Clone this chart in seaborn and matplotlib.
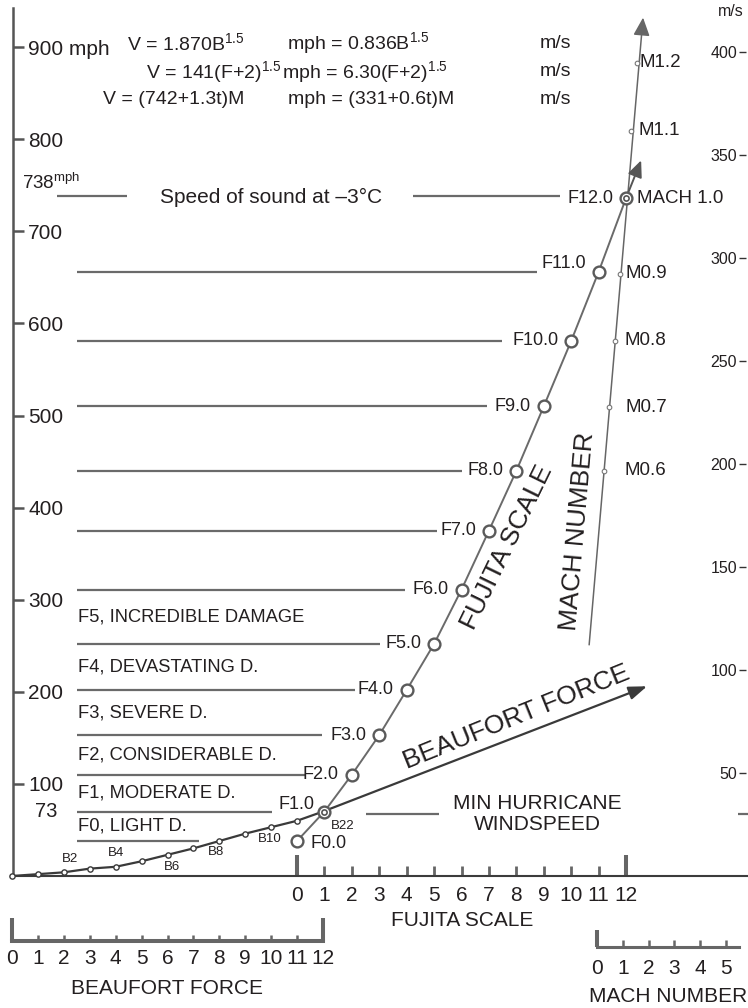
import matplotlib
matplotlib.use("Agg")
import matplotlib.pyplot as plt
import matplotlib.transforms as mtransforms
import seaborn as sns

# ---------------- data ----------------
fujita = [0, 1, 2, 3, 4, 5, 6, 7, 8, 9, 10, 11, 12]
fujita_mph = [38, 70, 110, 153, 202, 252, 311, 375, 440, 510, 581, 656, 736]
fujita_point_labels = ["F0.0", "F1.0", "F2.0", "F3.0", "F4.0", "F5.0", "F6.0",
                       "F7.0", "F8.0", "F9.0", "F10.0", "F11.0", "F12.0"]
damage_labels = ["F0, LIGHT D.", "F1, MODERATE D.", "F2, CONSIDERABLE D.",
                 "F3, SEVERE D.", "F4, DEVASTATING D.", "F5, INCREDIBLE DAMAGE"]
double_ring_points = [1, 12]
fujita_arrow_tip = [12.55, 777]

beaufort = [0, 1, 2, 3, 4, 5, 6, 7, 8, 9, 10, 11, 12]
beaufort_mph = [0, 2, 4, 8, 10, 16, 23, 30, 38, 46, 53, 60, 70]
beaufort_marked = [2, 4, 6, 8, 10, 12]
beaufort_marked_labels = ["B2", "B4", "B6", "B8", "B10", "B22"]
beaufort_arrow_tip = [24.5, 206]

mach = [0.6, 0.7, 0.8, 0.9, 1.0, 1.1, 1.2]
mach_mph = [440, 509, 581, 654, 736, 809, 883]
mach_point_labels = ["M0.6", "M0.7", "M0.8", "M0.9", "MACH 1.0", "M1.1", "M1.2"]
mach_line_start = [0.33, 251]
mach_arrow_tip = [1.31, 932]

speed_of_sound_mph = 738
min_hurricane_mph = 67
f1_label = "73"

mph_ticks = [100, 200, 300, 400, 500, 600, 700, 800, 900]
mph_tick_labels = ["100", "200", "300", "400", "500", "600", "700", "800", "900 mph"]
ms_ticks = [50, 100, 150, 200, 250, 300, 350, 400]
MPH_PER_MS = 2.23694

fujita_scale = list(range(13))
beaufort_scale = list(range(13))
mach_scale = [0, 1, 2, 3, 4, 5]

formula_rows = [
    ["V = 1.870B$^{1.5}$", "mph = 0.836B$^{1.5}$", "m/s"],
    ["V = 141(F+2)$^{1.5}$", "mph = 6.30(F+2)$^{1.5}$", "m/s"],
    ["V = (742+1.3t)M", "mph = (331+0.6t)M", "m/s"],
]

# ---------------- layout (pixels) ----------------
W, H, DPI = 748, 1008, 100
BASE_Y, TOP_Y, LEFT_X = 876, 8, 13
PX_PER_MPH = 0.921
F0_PX, F_STEP = 297, 27.42
B0_PX, B_STEP = 12, 25.92
M_PX, M_STEP = 571, 55.0
MB0_PX, MB_STEP = 597, 25.8

TEXT = "#231f20"
GRAY = "#6a6a6a"
DARK = "#3a3a3a"

sns.set_theme(style="white")
plt.rcParams["font.family"] = ["Liberation Sans", "DejaVu Sans"]
plt.rcParams["mathtext.fontset"] = "custom"
plt.rcParams["mathtext.rm"] = "Liberation Sans"
plt.rcParams["mathtext.it"] = "Liberation Sans:italic"
plt.rcParams["mathtext.bf"] = "Liberation Sans:bold"
plt.rcParams["text.color"] = TEXT

fig = plt.figure(figsize=(W / DPI, H / DPI), dpi=DPI)
fig.patch.set_facecolor("white")
PX = mtransforms.Affine2D().scale(1, -1).translate(0, H)

ax = fig.add_axes([LEFT_X / W, (H - BASE_Y) / H, (W - LEFT_X) / W, (BASE_Y - TOP_Y) / H])
ax.set_autoscale_on(False)
axB = ax.twiny()
axM = ax.twiny()
axF = ax.twiny()
for a in (axB, axM, axF):
    a.axis("off")
    a.set_autoscale_on(False)


def xlim_for(origin, step):
    return ((LEFT_X - origin) / step, (W - origin) / step)


ymax = (BASE_Y - TOP_Y) / PX_PER_MPH


def set_limits():
    ax.set_xlim(*xlim_for(F0_PX, F_STEP))
    axF.set_xlim(*xlim_for(F0_PX, F_STEP))
    axB.set_xlim(*xlim_for(B0_PX, B_STEP))
    axM.set_xlim(*xlim_for(M_PX, M_STEP))
    ax.set_ylim(0, ymax)


set_limits()
bx = mtransforms.blended_transform_factory(mtransforms.IdentityTransform(), ax.transData)

# ---- main axis frame (mph scale + Fujita bracket) ----
ax.patch.set_visible(False)
for s in ["top", "right"]:
    ax.spines[s].set_visible(False)
ax.spines["left"].set_color("#555555")
ax.spines["left"].set_linewidth(1.8)
ax.spines["bottom"].set_color("#3c3c3c")
ax.spines["bottom"].set_linewidth(1.5)

ax.set_xticks([fujita_scale[0], fujita_scale[-1]],
              labels=[str(fujita_scale[0]), str(fujita_scale[-1])])
ax.set_xticks(fujita_scale[1:-1], labels=[str(v) for v in fujita_scale[1:-1]], minor=True)
ax.tick_params(axis="x", which="major", bottom=True, direction="in", length=15, width=2.9,
               color="#666666", labelsize=15, pad=7, labelcolor=TEXT)
ax.tick_params(axis="x", which="minor", bottom=True, direction="in", length=7.2, width=2.0,
               color="#666666", labelsize=15, pad=7, labelcolor=TEXT)
ax.set_yticks(mph_ticks, labels=mph_tick_labels)
ax.tick_params(axis="y", which="major", left=True, direction="in", length=8, width=1.8,
               color="#555555", labelsize=15, pad=-11, labelcolor=TEXT)
ax.tick_params(axis="y", which="minor", left=False)
plt.setp(ax.get_yticklabels(), ha="left")

# right m/s axis
sec = ax.secondary_yaxis((W - 2 - LEFT_X) / (W - LEFT_X),
                         functions=(lambda v: v / MPH_PER_MS, lambda v: v * MPH_PER_MS))
sec.set_alignment("left")
for s in ["left", "right"]:
    sec.spines[s].set_visible(False)
sec.set_yticks(ms_ticks)
sec.tick_params(axis="y", direction="out", length=5, width=1.0, color="#333333",
                labelsize=11.5, pad=1.5, labelcolor=TEXT, left=True)
fig.text(731, 12, "m/s", transform=PX, fontsize=11.5, ha="center", va="center")

# ---- horizontal F-level leader lines ----
f_line_start = 77
f_line_end = [199, 272, 305, 322, 355, 380, 405, 437, 462, 487, 502, 537]
for v, xe in zip(fujita_mph[:-1], f_line_end):
    ax.hlines(v, f_line_start, xe, transform=bx, color=GRAY, lw=1.6)
for xs, xe in [(57, 127), (413, 560)]:
    ax.hlines(speed_of_sound_mph, xs, xe, transform=bx, color=GRAY, lw=1.6)
for xs, xe in [(366, 439), (738, 748)]:
    ax.hlines(min_hurricane_mph, xs, xe, transform=bx, color=GRAY, lw=1.6, clip_on=False)

# damage class labels between consecutive F-levels
for i, lab in enumerate(damage_labels):
    mid = (fujita_mph[i] + fujita_mph[i + 1]) / 2
    ax.text(78, mid, lab, transform=bx, fontsize=13.2, va="center", ha="left")

ax.text(35, fujita_mph[1], f1_label, transform=bx, fontsize=14.5, va="center", ha="left")
fig.text(22, 183, "738$^{\\mathrm{mph}}$", transform=PX, fontsize=13.5, va="center", ha="left")

# ---- Beaufort curve ----
sns.lineplot(x=beaufort, y=beaufort_mph, ax=axB, color=DARK, lw=1.6, marker="o",
             markersize=3.8, markerfacecolor="white", markeredgecolor=DARK,
             markeredgewidth=1.0, estimator=None, sort=False, clip_on=False, zorder=3)
axB.annotate("", xy=beaufort_arrow_tip, xytext=(beaufort[-1], beaufort_mph[-1]),
             arrowprops=dict(arrowstyle="-|>,head_length=0.55,head_width=0.2", color=DARK,
                             lw=1.6, shrinkA=0, shrinkB=0, mutation_scale=20))
b_offsets = [(6, 13), (0, 14), (4, -12), (-3, -11), (-1, -12), (20, -14)]
for b, lab, off in zip(beaufort_marked, beaufort_marked_labels, b_offsets):
    axB.annotate(lab, xy=(b, beaufort_mph[beaufort.index(b)]), xytext=off,
                 textcoords="offset pixels", fontsize=9.5, ha="center", va="center")

# ---- Mach line ----
axM.annotate("", xy=mach_arrow_tip, xytext=mach_line_start,
             arrowprops=dict(arrowstyle="-|>,head_length=0.55,head_width=0.25", color="#666666",
                             lw=1.1, shrinkA=0, shrinkB=0, mutation_scale=20))
sns.scatterplot(x=mach, y=mach_mph, ax=axM, s=11, color="white", edgecolor="#777777",
                linewidth=0.8, zorder=5)
m_dx = [21, 16, 10, 5, 11, 7, 3]
for m, v, lab, dx in zip(mach, mach_mph, mach_point_labels, m_dx):
    axM.annotate(lab, xy=(m, v), xytext=(dx, 0), textcoords="offset pixels",
                 fontsize=13.5, ha="left", va="center")

# ---- Fujita curve ----
axF.annotate("", xy=fujita_arrow_tip, xytext=(fujita[-1], fujita_mph[-1]),
             arrowprops=dict(arrowstyle="-|>,head_length=0.5,head_width=0.22", color="#555555",
                             lw=1.4, shrinkA=0, shrinkB=0, mutation_scale=20))
sns.lineplot(x=fujita, y=fujita_mph, ax=axF, color=GRAY, lw=1.4, marker="o",
             markersize=8.5, markerfacecolor="white", markeredgecolor="#5a5a5a",
             markeredgewidth=1.7, estimator=None, sort=False, zorder=4)
sns.scatterplot(x=[fujita[i] for i in double_ring_points],
                y=[fujita_mph[i] for i in double_ring_points], ax=axF, s=14,
                color="white", edgecolor="#555555", linewidth=1.2, zorder=6)
f_offsets = {0: (14, -2, "left"), 1: (-10, 7, "right"), 11: (-12, 8, "right")}
for f, v, lab in zip(fujita, fujita_mph, fujita_point_labels):
    dx, dy, ha = f_offsets.get(f, (-13, 0, "right"))
    axF.annotate(lab, xy=(f, v), xytext=(dx, dy), textcoords="offset pixels",
                 fontsize=13, ha=ha, va="center")

# ---- free annotations ----
row_y = [43, 72, 100]
row_x = [[127, 287, 540], [146, 282, 540], [103, 288, 540]]
for y, xs, texts in zip(row_y, row_x, formula_rows):
    for x, t in zip(xs, texts):
        fig.text(x, y, t, transform=PX, fontsize=14, ha="left", va="center")

fig.text(160, 197, "Speed of sound at \u20133\u00b0C", transform=PX, fontsize=15,
         ha="left", va="center")
fig.text(537, 814, "MIN HURRICANE\nWINDSPEED", transform=PX, fontsize=15, ha="center",
         va="center", multialignment="center", linespacing=1.15)
fig.text(507, 547, "FUJITA SCALE", transform=PX, fontsize=19, rotation=64,
         rotation_mode="anchor", ha="center", va="center")
fig.text(517, 717, "BEAUFORT FORCE", transform=PX, fontsize=19, rotation=22,
         rotation_mode="anchor", ha="center", va="center")
fig.text(578, 531, "MACH NUMBER", transform=PX, fontsize=19, rotation=85,
         rotation_mode="anchor", ha="center", va="center")

fig.text(462, 920, "FUJITA SCALE", transform=PX, fontsize=15, ha="center", va="center")
fig.text(167, 988, "BEAUFORT FORCE", transform=PX, fontsize=15, ha="center", va="center")
fig.text(668, 997, "MACH NUMBER", transform=PX, fontsize=15, ha="center", va="center")


# ---- bottom bracket scales ----
def bracket(x0, y, step, span, ticks, majors, major_len, minor_len, spine_lw, pad):
    a = fig.add_axes([x0 / W, (H - y) / H, step * span / W, 40 / H])
    a.set_xlim(0, span)
    a.set_ylim(0, 1)
    a.patch.set_visible(False)
    for s in ["top", "right", "left"]:
        a.spines[s].set_visible(False)
    a.spines["bottom"].set_linewidth(spine_lw)
    a.spines["bottom"].set_color("#666666")
    a.set_yticks([])
    a.set_xticks(majors, labels=[str(v) for v in majors])
    minors = [t for t in ticks if t not in majors]
    a.set_xticks(minors, labels=[str(v) for v in minors], minor=True)
    a.tick_params(axis="x", which="major", bottom=True, direction="in", length=major_len,
                  width=2.9, color="#666666", labelsize=15, pad=pad, labelcolor=TEXT)
    a.tick_params(axis="x", which="minor", bottom=True, direction="in", length=minor_len,
                  width=1.8, color="#666666", labelsize=15, pad=pad, labelcolor=TEXT)
    return a


bracket(B0_PX, 941, B_STEP, 12, beaufort_scale, [0, 12], 16.5, 4.3, 2.9, 5.5)
bracket(MB0_PX, 947, MB_STEP, 5.5, mach_scale, [0], 12.2, 5.0, 2.2, 8.5)

set_limits()
fig.savefig("out.png", dpi=DPI, facecolor="white")
